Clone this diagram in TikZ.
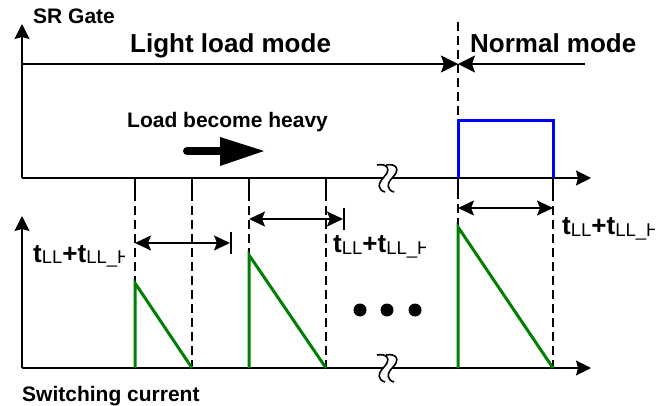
\documentclass[tikz,border=0pt]{standalone}
\usepackage{fontspec}
\setmainfont{Liberation Sans}
\usetikzlibrary{arrows.meta}
\definecolor{wgreen}{RGB}{0,128,0}
\definecolor{wblue}{RGB}{0,0,255}
\newcommand{\tlab}{\fontsize{26}{26}\selectfont\bfseries t\raisebox{-1.5pt}{\fontsize{18.5}{18.5}\selectfont\mdseries LL}+t\raisebox{-1.5pt}{\fontsize{18.5}{18.5}\selectfont\mdseries LL\_H}}
\tikzset{
  axis/.style={line width=1.6pt,-{Stealth[length=15pt,width=15pt,inset=2pt]}},
  modearrow/.style={line width=1.6pt,-{Stealth[length=17pt,width=17pt,inset=3pt]}},
  dimarrow/.style={line width=1.6pt,{Stealth[length=16pt,width=15pt,inset=3pt]}-{Stealth[length=16pt,width=15pt,inset=3pt]}},
  plain/.style={line width=1.6pt},
  dashline/.style={line width=1.4pt,dash pattern=on 9pt off 5pt},
  bluewave/.style={line width=3pt,wblue},
  greenwave/.style={line width=3pt,wgreen},
  txt/.style={inner sep=0pt,anchor=base west,font=\fontsize{21}{21}\selectfont\bfseries},
  bigtxt/.style={inner sep=0pt,anchor=base west,font=\fontsize{26}{26}\selectfont\bfseries},
  tl/.style={inner sep=0pt,anchor=base west},
  brk/.style={line width=1.6pt,line join=round},
}
\begin{document}
\begin{tikzpicture}[x=1pt,y=-1pt]
\useasboundingbox[fill=white] (0,0) rectangle (656,406);
% key coordinates
\coordinate (o1) at (22,178);
\coordinate (y1) at (22,24);
\coordinate (x1) at (591,178);
\coordinate (o2) at (22,368);
\coordinate (y2) at (22,216);
\coordinate (x2) at (591,368);
\coordinate (mL) at (22,64);
\coordinate (mM) at (458,64);
\coordinate (mR) at (585,64);
% texts
\node[txt] (srg) at (33,24) {SR Gate};
\node[bigtxt] (llm) at (130,53) {Light load mode};
\node[bigtxt] (nm) at (470,53) {Normal mode};
\node[txt] (lbh) at (127,128) {Load become heavy};
\node[txt] (swc) at (22,401) {Switching current};
% dashed verticals
\foreach \x/\n in {135/a,192/b,249/c,326/d,553/f}{
  \coordinate (dt\n) at (\x,178);
  \coordinate (dk\n) at (\x,192);
  \coordinate (db\n) at (\x,368);
  \draw[plain] (dt\n) -- (dk\n);
  \draw[dashline] (dk\n) -- (db\n);
}
\coordinate (dte) at (458,22);
\coordinate (dbe) at (458,368);
\draw[dashline] (dte) -- (dbe);
\draw[plain] (458,178) -- (458,192);
% axes
\draw[axis] (o1) -- (y1);
\draw[axis] (o1) -- (x1);
\draw[axis] (o2) -- (y2);
\draw[axis] (o2) -- (x2);
% mode arrows
\draw[modearrow] (mL) -- (mM);
\draw[modearrow] (mR) -- (mM);
% break symbols
\foreach \yy/\n in {178/t,368/b}{
  \begin{scope}[shift={(0,\yy)}]
    \fill[white] (377,-13) .. controls (388,-15) and (391,-8) .. (384,-1) .. controls (377,6) and (378,12) .. (385,14)
      -- (394,14) .. controls (387,12) and (386,6) .. (393,-1) .. controls (400,-8) and (397,-15) .. (386,-13) -- cycle;
    \draw[brk] (377,-13) .. controls (388,-15) and (391,-8) .. (384,-1) .. controls (377,6) and (378,12) .. (385,14);
    \draw[brk] (386,-13) .. controls (397,-15) and (400,-8) .. (393,-1) .. controls (386,6) and (387,12) .. (394,14);
  \end{scope}
}
% big arrow
\coordinate (ba0) at (187,151);
\coordinate (ba1) at (222,151);
\draw[line width=8pt,line cap=round] (ba0) -- (ba1);
\fill (220,137) -- (264,151) -- (220,166) -- cycle;
% blue gate pulse
\draw[bluewave] (458,178) -- (458,121) -- (553,121) -- (553,178);
% green current
\draw[greenwave] (dba) -- (135,283) -- (dbb);
\draw[greenwave] (dbc) -- (249,255) -- (dbd);
\draw[greenwave] (dbe) -- (458,227) -- (dbf);
% dimension arrows
\coordinate (a1s) at (135,243); \coordinate (a1e) at (230,243);
\draw[dimarrow] (a1s) -- (a1e);
\draw[plain] (231,232) -- (231,254);
\coordinate (a2s) at (249,219); \coordinate (a2e) at (343,219);
\draw[dimarrow] (a2s) -- (a2e);
\draw[plain] (344,208) -- (344,230);
\coordinate (a3s) at (458,208); \coordinate (a3e) at (553,208);
\draw[dimarrow] (a3s) -- (a3e);
% labels (H clipped)
\begin{scope}
  \clip (25,225) rectangle (124,280);
  \node[tl] (t1) at (33,262) {\tlab};
\end{scope}
\begin{scope}
  \clip (330,225) rectangle (425,270);
  \node[tl] (t2) at (333,253) {\tlab};
\end{scope}
\begin{scope}
  \clip (558,205) rectangle (654,250);
  \node[tl] (t3) at (562,235) {\tlab};
\end{scope}
% dots
\foreach \x/\n in {360/1,387/2,415/3}{
  \fill (\x,310) circle (6.5pt);
}
\end{tikzpicture}
\end{document}
